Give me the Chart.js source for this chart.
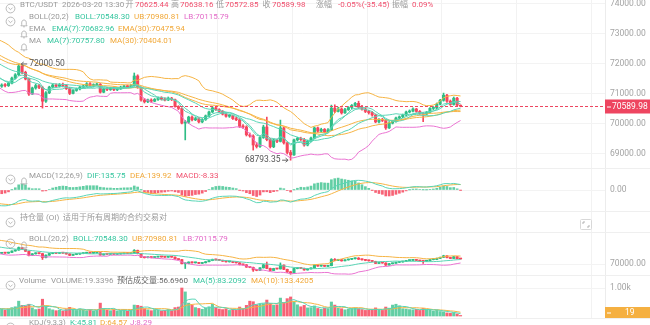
<!DOCTYPE html>
<html>
<head>
<meta charset="utf-8">
<script src="https://cdn.jsdelivr.net/npm/chart.js@4.4.1/dist/chart.umd.min.js"></script>
<style>
html, body { margin: 0; padding: 0; background: #fff; }
#wrap { position: relative; width: 650px; height: 325px; overflow: hidden; font-family: Roboto, "Noto Sans CJK SC", sans-serif; }
#wrap canvas { position: absolute; left: 0; }
.sep { position: absolute; left: 0; width: 650px; height: 1px; background: #efefef; }
.t { position: absolute; font-size: 8px; line-height: 10px; white-space: nowrap; color: #9a9a9a; }
.ic { position: absolute; display: block; }
</style>
</head>
<body>
<div id="wrap">
  <canvas id="main" width="650" height="168" style="top:0;width:650px;height:168px"></canvas>
  <canvas id="macd" width="650" height="42" style="top:169px;width:650px;height:42px"></canvas>
  <canvas id="oi" width="650" height="20" style="top:212px;width:650px;height:20px"></canvas>
  <canvas id="boll" width="650" height="42" style="top:233px;width:650px;height:42px"></canvas>
  <canvas id="vol" width="650" height="42" style="top:276px;width:650px;height:42px"></canvas>
  <div class="sep" style="top:168px"></div>
  <div class="sep" style="top:211px"></div>
  <div class="sep" style="top:232px"></div>
  <div class="sep" style="top:275px"></div>
  <div class="sep" style="top:318px"></div>
</div>
<script>
// candles before the left edge (only used to warm up the indicators)
const earlierCloses = [73350, 73280, 73310, 73220, 73150, 73180, 73090, 72980, 73020, 72900, 72850, 72870,
  72760, 72680, 72720, 72600, 72540, 72470, 72510, 72380, 72300, 72330, 72210, 72140, 72060, 72100,
  71960, 71880, 71790, 71820, 71680, 71590, 71480, 71380, 71260]
const earlierVolumes = [280, 250, 310, 270, 240, 300, 260, 290, 230, 250]

const opens = [71260, 71300, 71280, 71360, 71530, 71640, 71930, 71720, 71500, 71000, 71200, 71280, 71220, 70760,
  71040, 71230, 71300, 71260, 71310, 71280, 71180, 71020, 71120, 71170, 71230, 71270, 71340, 71280, 71300, 71320,
  71060, 71170, 71150, 71200, 71140, 71180, 71230, 71260, 71240, 71280, 71600, 71220, 70800, 70740, 70800, 70760,
  70820, 70870, 70830, 70800, 70860, 70810, 70580, 70520, 70030, 70060, 70230, 70140, 70180, 70070, 70150, 70270,
  70400, 70540, 70480, 70420, 70330, 70260, 70280, 70180, 70140, 69920, 69900, 69640, 69600, 69300, 69250, 69550,
  69900, 69480, 69240, 69470, 69420, 69870, 69370, 69050, 68970, 69470, 69520, 69480, 69300, 69430, 69530, 69870,
  69760, 69820, 69730, 69800, 70530, 70420, 70500, 70370, 70480, 70550, 70620, 70690, 70560, 70500, 70420, 70380,
  70300, 70070, 70150, 70120, 69870, 70030, 70090, 70200, 70240, 70300, 70400, 70430, 70500, 70420, 70350, 70330,
  70390, 70520, 70530, 70660, 70790, 70960, 70760, 70650, 70860, 70625.44]
const highs = [71340, 71350, 71390, 71560, 71680, 72000.5, 71960, 71760, 71530, 71230, 71330, 71320, 71260, 71080,
  71260, 71340, 71340, 71350, 71360, 71310, 71220, 71150, 71200, 71260, 71300, 71380, 71380, 71340, 71360, 71350,
  71200, 71220, 71230, 71240, 71210, 71260, 71290, 71300, 71310, 71700, 71640, 71240, 70850, 70830, 70840, 70850,
  70900, 70910, 70870, 70900, 70890, 70830, 70610, 70540, 70120, 70260, 70270, 70220, 70210, 70180, 70300, 70430,
  70580, 70580, 70510, 70450, 70370, 70320, 70300, 70230, 70180, 69980, 69940, 69700, 69640, 69380, 69580, 69960,
  70230, 69520, 69500, 69500, 70130, 69900, 69400, 69120, 69500, 69560, 69560, 69520, 69460, 69560, 69900, 69900,
  69860, 69850, 69850, 70630, 70640, 70560, 70540, 70520, 70580, 70650, 70720, 70760, 70620, 70540, 70460, 70420,
  70330, 70180, 70190, 70150, 70080, 70120, 70230, 70270, 70330, 70430, 70470, 70540, 70520, 70450, 70380, 70420,
  70550, 70580, 70700, 70820, 71030, 70990, 70800, 70900, 70890, 70638.16]
const lows = [71220, 71240, 71250, 71340, 71500, 71610, 71680, 71470, 70950, 70980, 71160, 71180, 70530, 70720,
  71010, 71200, 71220, 71230, 71240, 71150, 70980, 71000, 71090, 71140, 71200, 71240, 71250, 71230, 71270, 71030,
  71040, 71110, 71120, 71110, 71110, 71150, 71200, 71210, 71220, 71260, 71190, 70760, 70700, 70710, 70720, 70740,
  70790, 70800, 70770, 70780, 70780, 70560, 70480, 70000, 69470, 70020, 70100, 70110, 70040, 70040, 70120, 70240,
  70380, 70450, 70390, 70300, 70230, 70220, 70150, 70110, 69880, 69850, 69600, 69560, 69130, 69200, 69220, 69520,
  69440, 69200, 69210, 69380, 69400, 69330, 69000, 68793.35, 68950, 69430, 69450, 69260, 69270, 69400, 69500, 69720,
  69720, 69700, 69700, 69780, 70380, 70400, 70330, 70350, 70450, 70510, 70580, 70520, 70460, 70380, 70330, 70260,
  70040, 70040, 70080, 69820, 69850, 70000, 70060, 70170, 70210, 70270, 70370, 70400, 70390, 70320, 70080, 70300,
  70360, 70480, 70500, 70640, 70760, 70720, 70620, 70630, 70600, 70572.85]
const closes = [71300, 71280, 71360, 71530, 71640, 71930, 71720, 71500, 71000, 71200, 71280, 71220, 70760, 71040,
  71230, 71300, 71260, 71310, 71280, 71180, 71020, 71120, 71170, 71230, 71270, 71340, 71280, 71300, 71320, 71060,
  71170, 71150, 71200, 71140, 71180, 71230, 71260, 71240, 71280, 71600, 71220, 70800, 70740, 70800, 70760, 70820,
  70870, 70830, 70800, 70860, 70810, 70580, 70520, 70030, 70060, 70230, 70140, 70180, 70070, 70150, 70270, 70400,
  70540, 70480, 70420, 70330, 70260, 70280, 70180, 70140, 69920, 69900, 69640, 69600, 69300, 69250, 69550, 69900,
  69480, 69240, 69470, 69420, 69870, 69370, 69050, 68970, 69470, 69520, 69480, 69300, 69430, 69530, 69870, 69760,
  69820, 69730, 69800, 70530, 70420, 70500, 70370, 70480, 70550, 70620, 70690, 70560, 70500, 70420, 70380, 70300,
  70070, 70150, 70120, 69870, 70030, 70090, 70200, 70240, 70300, 70400, 70430, 70500, 70420, 70350, 70330, 70390,
  70520, 70530, 70660, 70790, 70960, 70760, 70650, 70860, 70625.44, 70589.98]
const volumes = [240, 210, 260, 300, 330, 530, 380, 360, 420, 290, 230, 250, 600, 340, 260, 220, 190, 210, 180, 230,
  310, 240, 200, 260, 220, 190, 230, 180, 200, 460, 270, 210, 190, 230, 180, 200, 220, 170, 210, 390, 380, 350, 260,
  220, 190, 230, 210, 180, 200, 240, 190, 300, 320, 1000, 860, 460, 380, 300, 270, 240, 280, 330, 420, 300, 250,
  230, 260, 200, 240, 210, 320, 260, 380, 530, 510, 400, 420, 440, 570, 450, 380, 400, 640, 480, 620, 680, 500, 400,
  330, 380, 290, 300, 360, 270, 240, 280, 260, 500, 390, 280, 260, 220, 240, 270, 290, 260, 230, 200, 210, 240, 290,
  220, 200, 320, 280, 390, 420, 360, 260, 250, 230, 220, 240, 200, 270, 230, 218, 180, 210, 160, 150, 110, 95, 120,
  72, 19.3396]

// axis ticks shown on the right
const priceTicks = [69000, 70000, 71000, 72000, 73000, 74000]
const macdTicks = [0]
const bollTicks = [70000]
const volTicks = [1000]

const GREEN = '#2ebd85', RED = '#f6465d'
const SOFT_GREEN = 'rgba(46,189,133,0.75)', SOFT_RED = 'rgba(246,70,93,0.85)'
const TEAL = '#5ad5b6', ORANGE = '#f6b444', PINK = '#ea74d2'
const TXT_TEAL = '#36c69f', TXT_ORANGE = '#f1a838', TXT_PINK = '#e36ac8', TXT_RED = '#f0506e', GRAY = '#9a9a9a'

Chart.defaults.font.family = 'Roboto'

const W = earlierCloses.length
const N = closes.length
const SLOTS = 178
const labels = Array.from({ length: W + SLOTS }, (_, i) => 'k' + i)

function sma(src, n) {
  return src.map((v, i) => {
    if (i < n - 1) return null
    let s = 0
    for (let j = i - n + 1; j <= i; j++) s += src[j]
    return s / n
  })
}
function ema(src, n) {
  const k = 2 / (n + 1)
  const out = []
  src.forEach((v, i) => out.push(i ? v * k + out[i - 1] * (1 - k) : v))
  return out
}
function bands(src, n, m) {
  const mid = sma(src, n)
  const up = [], dn = []
  src.forEach((v, i) => {
    if (mid[i] === null) { up.push(null); dn.push(null); return }
    let q = 0
    for (let j = i - n + 1; j <= i; j++) q += (src[j] - mid[i]) ** 2
    const sd = Math.sqrt(q / n)
    up.push(mid[i] + m * sd)
    dn.push(mid[i] - m * sd)
  })
  return { mid, up, dn }
}

const allCloses = earlierCloses.concat(closes)
const boll = bands(allCloses, 20, 2)
const ema7 = ema(allCloses, 7), ema30 = ema(allCloses, 30)
const ma7 = sma(allCloses, 7), ma30 = sma(allCloses, 30)
const e12 = ema(allCloses, 12), e26 = ema(allCloses, 26)
const dif = e12.map((v, i) => v - e26[i])
const dea = ema(dif, 9)
const hist = dif.map((v, i) => 2 * (v - dea[i]))

const volSrc = earlierVolumes.concat(volumes)
const volLead = Array(W - earlierVolumes.length).fill(null)
const vma5 = volLead.concat(sma(volSrc, 5))
const vma10 = volLead.concat(sma(volSrc, 10))

const lead = Array(W).fill(null)
const isUp = lead.map(() => true).concat(opens.map((o, i) => closes[i] >= o))
const candleColors = isUp.map(u => u ? GREEN : RED)

function candleSets() {
  return [
    { type: 'bar', data: lead.concat(lows.map((l, i) => [l, highs[i]])), backgroundColor: candleColors,
      barThickness: 1, grouped: false, order: 3 },
    { type: 'bar', data: lead.concat(opens.map((o, i) => [o, closes[i]])), backgroundColor: candleColors,
      barThickness: 2.4, minBarLength: 1, grouped: false, order: 2 }
  ]
}
function lineSet(data, color) {
  return { type: 'line', data, borderColor: color, borderWidth: 1, pointRadius: 0, fill: false, tension: 0, order: 1 }
}

function xScale() {
  return {
    type: 'category', min: W, max: W + SLOTS - 1, offset: true,
    grid: { offset: true, drawTicks: false, color: c => c.index % 22 === 20 ? '#f2f2f2' : 'rgba(0,0,0,0)' },
    border: { display: false },
    ticks: { display: false, autoSkip: false }
  }
}
function yScale(min, max, ticks, fmt) {
  return {
    position: 'right', min, max,
    afterBuildTicks: s => { s.ticks = ticks.map(v => ({ value: v })) },
    afterFit: s => { s.width = 45; s.paddingTop = 0; s.paddingBottom = 0 },
    grid: { color: '#f3f3f3', drawTicks: false },
    border: { display: true, color: '#ececec' },
    ticks: { padding: 5, color: '#a3a3a3', font: { size: 8.5 }, callback: fmt }
  }
}

// last value tag on the right axis
const lastTag = {
  id: 'lastTag',
  afterDraw(chart, args, o) {
    if (!o || o.value === undefined) return
    const { ctx, chartArea: a, scales: { y } } = chart
    const py = Math.round(y.getPixelForValue(o.value)) + 0.5
    ctx.save()
    if (o.dashed) {
      ctx.strokeStyle = o.color
      ctx.lineWidth = 1
      ctx.setLineDash([3, 2])
      ctx.beginPath(); ctx.moveTo(a.left, py); ctx.lineTo(a.right, py); ctx.stroke()
      ctx.setLineDash([])
    }
    const h = o.height
    const cy = Math.min(py, chart.height - h / 2)
    ctx.fillStyle = o.color
    ctx.fillRect(a.right, cy - h / 2, chart.width - a.right, h)
    ctx.fillStyle = '#fff'
    ctx.fillRect(a.right + 2, Math.round(cy) - 0.5, 4, 1)
    ctx.font = '8.5px Roboto'
    ctx.textBaseline = 'middle'
    ctx.fillText(o.text, a.right + o.textX, cy + 0.5)
    ctx.restore()
  }
}

function arrow(ctx, from, to, y) {
  const d = to > from ? -1 : 1
  ctx.beginPath()
  ctx.moveTo(from, y); ctx.lineTo(to, y)
  ctx.moveTo(to + 2.5 * d, y - 2); ctx.lineTo(to, y); ctx.lineTo(to + 2.5 * d, y + 2)
  ctx.stroke()
}

// highest high / lowest low markers
const extremes = {
  id: 'extremes',
  afterDatasetsDraw(chart) {
    const { ctx, scales: { x, y } } = chart
    let hi = 0, lo = 0
    highs.forEach((v, i) => { if (v > highs[hi]) hi = i })
    lows.forEach((v, i) => { if (v < lows[lo]) lo = i })
    ctx.save()
    ctx.strokeStyle = '#666'; ctx.fillStyle = '#555'; ctx.lineWidth = 1
    ctx.font = '8.5px Roboto'; ctx.textBaseline = 'middle'
    const hx = x.getPixelForValue(W + hi), hy = y.getPixelForValue(highs[hi])
    arrow(ctx, hx + 8.5, hx + 2.5, hy)
    ctx.textAlign = 'left'
    ctx.fillText(highs[hi].toFixed(2), hx + 10.5, hy)
    const lx = x.getPixelForValue(W + lo), ly = y.getPixelForValue(lows[lo])
    arrow(ctx, lx - 8.5, lx - 2.5, ly)
    ctx.textAlign = 'right'
    ctx.fillText(lows[lo].toFixed(2), lx - 10, ly)
    ctx.restore()
  }
}

function makeChart(id, datasets, y, plugins, pluginOpts) {
  return new Chart(document.getElementById(id), {
    type: 'bar',
    data: { labels, datasets },
    options: {
      responsive: false, animation: false, events: [],
      layout: { padding: 0 },
      plugins: Object.assign({ legend: { display: false }, tooltip: { enabled: false } }, pluginOpts || {}),
      scales: { x: xScale(), y }
    },
    plugins: plugins || []
  })
}

const fix2 = v => Number(v).toFixed(2)

makeChart('main',
  candleSets().concat([
    lineSet(boll.mid, TEAL), lineSet(boll.up, ORANGE), lineSet(boll.dn, PINK),
    lineSet(ema7, TEAL), lineSet(ema30, ORANGE),
    lineSet(ma7, TEAL), lineSet(ma30, ORANGE)
  ]),
  yScale(68533.3, 74133.3, priceTicks, fix2),
  [extremes, lastTag],
  { lastTag: { value: closes[N - 1], color: '#ee4560', dashed: true, height: 14, textX: 7, text: closes[N - 1].toFixed(2) } }
)

makeChart('macd',
  [
    { type: 'bar', data: hist, backgroundColor: hist.map(v => v >= 0 ? SOFT_GREEN : SOFT_RED), barThickness: 2, grouped: false, order: 2 },
    lineSet(dif, TEAL), lineSet(dea, ORANGE)
  ],
  yScale(-520, 520, macdTicks, fix2)
)

makeChart('oi', [], yScale(0, 1, [], fix2))

makeChart('boll',
  candleSets().concat([lineSet(boll.mid, TEAL), lineSet(boll.up, ORANGE), lineSet(boll.dn, PINK)]),
  yScale(68706, 73647, bollTicks, fix2)
)

makeChart('vol',
  [
    { type: 'bar', data: lead.concat(volumes), backgroundColor: isUp.map(u => u ? SOFT_GREEN : SOFT_RED), barThickness: 2.4, grouped: false, order: 2 },
    lineSet(vma5, TEAL), lineSet(vma10, ORANGE)
  ],
  yScale(-71.4, 1428.6, volTicks, v => (v / 1000).toFixed(2) + 'k'),
  [lastTag],
  { lastTag: { value: volumes[N - 1], color: '#f5b041', dashed: false, height: 11, textX: 20, text: String(Math.round(volumes[N - 1])) } }
)

// header texts and icons
const wrap = document.getElementById('wrap')
const chevron = '<svg width="11" height="11"><circle cx="5.5" cy="5.5" r="4.4" fill="none" stroke="#aaa" stroke-width="0.8"/><path d="M3.4 4.6 L5.5 6.7 L7.6 4.6" fill="none" stroke="#aaa" stroke-width="0.8"/></svg>'
const bell = '<svg width="8" height="9"><path d="M4 1 C2.2 1 1.7 2.5 1.7 3.9 L1.7 5.7 L0.9 6.8 L7.1 6.8 L6.3 5.7 L6.3 3.9 C6.3 2.5 5.8 1 4 1 Z M3.1 7.8 L4.9 7.8" fill="none" stroke="#aaa" stroke-width="0.8"/></svg>'
function icon(svg, cx, cy, w, h) {
  const d = document.createElement('div')
  d.className = 'ic'
  d.style.left = (cx - w / 2) + 'px'
  d.style.top = (cy - h / 2) + 'px'
  d.innerHTML = svg
  wrap.appendChild(d)
}
function txt(x, cy, s, color) {
  const d = document.createElement('div')
  d.className = 't'
  d.style.left = x + 'px'
  d.style.top = (cy - 5) + 'px'
  d.style.color = color || GRAY
  d.textContent = s
  wrap.appendChild(d)
}

const headers = [
  [4.5, true, false, [[20, 'BTC/USDT'], [62, '2026-03-20 13:30'], [125.5, '开'], [135, '70625.44', TXT_RED],
    [171, '高'], [180, '70638.16', TXT_RED], [216, '低'], [225, '70572.85', TXT_RED], [262.5, '收'],
    [272, '70589.98', TXT_RED], [316, '涨幅'], [338, '-0.05%(-35.45)', TXT_RED], [392, '振幅'], [412, '0.09%', TXT_RED]]],
  [17.3, true, true, [[29, 'BOLL(20,2)'], [75, 'BOLL:70548.30', TXT_TEAL], [134, 'UB:70980.81', TXT_ORANGE], [184, 'LB:70115.79', TXT_PINK]]],
  [28.8, false, true, [[29, 'EMA'], [52, 'EMA(7):70682.96', TXT_TEAL], [118, 'EMA(30):70475.94', TXT_ORANGE]]],
  [41, false, true, [[29, 'MA'], [47, 'MA(7):70757.80', TXT_TEAL], [110, 'MA(30):70404.01', TXT_ORANGE]]],
  [175.5, true, true, [[29, 'MACD(12,26,9)'], [87, 'DIF:135.75', TXT_TEAL], [130, 'DEA:139.92', TXT_ORANGE], [176, 'MACD:-8.33', TXT_RED]]],
  [218, true, false, [[20, '持仓量 (OI)'], [63, '适用于所有周期的合约交易对']]],
  [239, true, true, [[29, 'BOLL(20,2)'], [73, 'BOLL:70548.30', TXT_TEAL], [132, 'UB:70980.81', TXT_ORANGE], [183, 'LB:70115.79', TXT_PINK]]],
  [281, true, false, [[19, 'Volume'], [51, 'VOLUME:19.3396'], [117, '预估成交量:56.6960', '#666'], [193, 'MA(5):83.2092', TXT_TEAL], [251, 'MA(10):133.4205', TXT_ORANGE]]],
  [323, true, true, [[29, 'KDJ(9,3,3)'], [70, 'K:45.81', TXT_TEAL], [100, 'D:64.57', TXT_ORANGE], [130, 'J:8.29', TXT_PINK]]]
]
headers.forEach(([cy, hasChevron, hasBell, items]) => {
  if (hasChevron) icon(chevron, 10.5, cy, 11, 11)
  if (hasBell) icon(bell, 23.5, cy, 8, 9)
  items.forEach(([x, s, c]) => txt(x, cy, s, c))
})

// expand button in the OI pane
icon('<svg width="12" height="11"><rect x="0.5" y="0.5" width="11" height="10" rx="1" fill="none" stroke="#d8d8d8"/><path d="M3 5 V3 H5 M9 6 V8 H7" fill="none" stroke="#aaa" stroke-width="0.9"/></svg>', 586, 220, 12, 11)
</script>
</body>
</html>
